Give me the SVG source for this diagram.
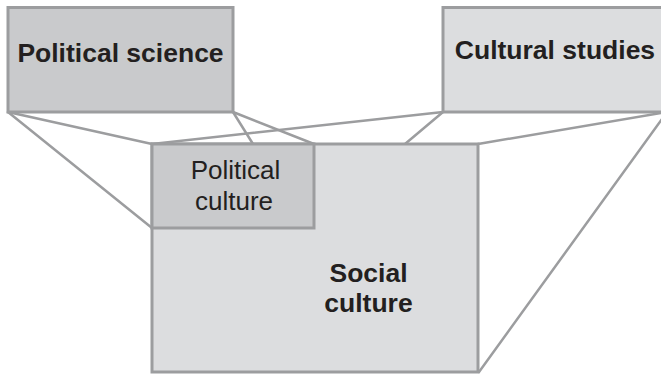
<svg xmlns="http://www.w3.org/2000/svg" width="661" height="374" viewBox="0 0 661 374">
<style>
.box{stroke:#9c9d9f;stroke-width:3}
.dark{fill:#c9cacc}
.light{fill:#dcdddf}
.ln{stroke:#9c9d9f;stroke-width:2.5;fill:none;stroke-linecap:round}
.t{font-family:"Liberation Sans",Arial,sans-serif;fill:#231f20;text-anchor:middle}
.b{font-weight:bold;font-size:26.5px}
.r{font-size:26px}
</style>
<rect width="661" height="374" fill="#ffffff"/>
<g id="connectors">
<line class="ln" x1="8" y1="112" x2="152" y2="144"/>
<line class="ln" x1="8" y1="112" x2="152" y2="228"/>
<line class="ln" x1="233" y1="112" x2="253" y2="144"/>
<line class="ln" x1="233" y1="112" x2="314" y2="144"/>
<line class="ln" x1="443" y1="112" x2="152" y2="144"/>
<line class="ln" x1="443" y1="112" x2="405" y2="144"/>
<line class="ln" x1="667" y1="112" x2="478" y2="144"/>
<line class="ln" x1="667" y1="112" x2="479" y2="372"/>
</g>
<g id="political-science">
<rect class="box dark" x="8" y="7.5" width="225" height="104.5"/>
<text class="t b" x="120.5" y="61.5">Political science</text>
</g>
<g id="cultural-studies">
<rect class="box light" x="443" y="7.5" width="224" height="104.5"/>
<text class="t b" x="555" y="59">Cultural studies</text>
</g>
<g id="social-culture">
<rect class="box light" x="152" y="144" width="326" height="228"/>
<text class="t b" x="368.5" y="282">Social</text>
<text class="t b" x="368.5" y="312">culture</text>
</g>
<g id="political-culture">
<rect class="box dark" x="152" y="144" width="162" height="84"/>
<text class="t r" x="235.5" y="178.5">Political</text>
<text class="t r" x="234" y="210">culture</text>
</g>
</svg>
